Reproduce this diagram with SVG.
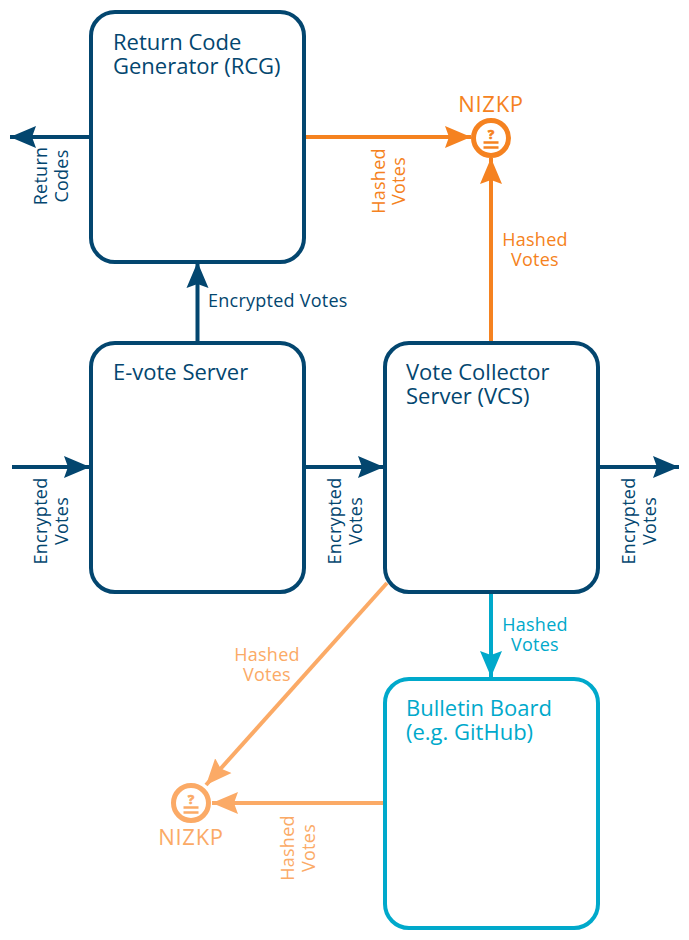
<svg xmlns="http://www.w3.org/2000/svg" width="689" height="940" viewBox="0 0 689 940">
<style>
text{font-family:"Open Sans","Noto Sans","Liberation Sans",sans-serif}
.box{fill:#fff;stroke-width:4}
.t{font-size:22px}
.k{font-size:22px;letter-spacing:.7px}
.s{font-size:18px;letter-spacing:.25px}
.mid{text-anchor:middle}
.navy{fill:#03466f}.or{fill:#f58220}.lo{fill:#fbaa66}.cy{fill:#00a9cb}
.ln{fill:none;stroke-width:4}
.gl{font-size:13px;font-weight:800;text-anchor:middle;stroke-width:.4px}
</style>
<defs>
<marker id="an" markerUnits="userSpaceOnUse" markerWidth="28" markerHeight="24" refX="26" refY="12" orient="auto"><path d="M0 1 L26 12 L0 23 L4 12Z" fill="#03466f"/></marker>
<marker id="ao" markerUnits="userSpaceOnUse" markerWidth="28" markerHeight="24" refX="26" refY="12" orient="auto"><path d="M0 1 L26 12 L0 23 L4 12Z" fill="#f58220"/></marker>
<marker id="al" markerUnits="userSpaceOnUse" markerWidth="28" markerHeight="24" refX="26" refY="12" orient="auto"><path d="M0 1 L26 12 L0 23 L4 12Z" fill="#fbaa66"/></marker>
<marker id="ac" markerUnits="userSpaceOnUse" markerWidth="28" markerHeight="24" refX="26" refY="12" orient="auto"><path d="M0 1 L26 12 L0 23 L4 12Z" fill="#00a9cb"/></marker>
</defs>
<g id="connectors">
<path class="ln" stroke="#03466f" marker-end="url(#an)" d="M90 137H10"/>
<path class="ln" stroke="#f58220" marker-end="url(#ao)" d="M306 137H471"/>
<path class="ln" stroke="#f58220" marker-end="url(#ao)" d="M491 341V158"/>
<path class="ln" stroke="#03466f" marker-end="url(#an)" d="M197.500 341V262"/>
<path class="ln" stroke="#03466f" marker-end="url(#an)" d="M12 467H90"/>
<path class="ln" stroke="#03466f" marker-end="url(#an)" d="M305 467H384"/>
<path class="ln" stroke="#03466f" marker-end="url(#an)" d="M599 467H679"/>
<path class="ln" stroke="#00a9cb" marker-end="url(#ac)" d="M491 593V677"/>
<path class="ln" stroke="#fbaa66" marker-end="url(#al)" d="M387 583L206 785"/>
<path class="ln" stroke="#fbaa66" marker-end="url(#al)" d="M384 803H212"/>
<g class="s">
<text class="navy mid" transform="translate(47 176) rotate(-90)">Return</text>
<text class="navy mid" transform="translate(68 176) rotate(-90)">Codes</text>
<text class="or mid" transform="translate(385 181) rotate(-90)">Hashed</text>
<text class="or mid" transform="translate(405 181) rotate(-90)">Votes</text>
<text class="or mid" x="535" y="246">Hashed</text>
<text class="or mid" x="535" y="266">Votes</text>
<text class="navy" x="208" y="307">Encrypted Votes</text>
<text class="navy mid" transform="translate(47 521) rotate(-90)">Encrypted</text>
<text class="navy mid" transform="translate(68 521) rotate(-90)">Votes</text>
<text class="navy mid" transform="translate(341 521) rotate(-90)">Encrypted</text>
<text class="navy mid" transform="translate(362 521) rotate(-90)">Votes</text>
<text class="navy mid" transform="translate(635 521) rotate(-90)">Encrypted</text>
<text class="navy mid" transform="translate(656 521) rotate(-90)">Votes</text>
<text class="cy mid" x="535" y="631">Hashed</text>
<text class="cy mid" x="535" y="651">Votes</text>
<text class="lo mid" x="267" y="661">Hashed</text>
<text class="lo mid" x="267" y="681">Votes</text>
<text class="lo mid" transform="translate(294 848) rotate(-90)">Hashed</text>
<text class="lo mid" transform="translate(315 848) rotate(-90)">Votes</text>
</g>
</g>
<g id="rcg"><rect class="box" stroke="#03466f" x="91" y="12" width="213" height="250" rx="24"/><text class="t navy" x="113" y="50">Return Code</text><text class="t navy" x="113" y="74">Generator (RCG)</text></g>
<g id="evote"><rect class="box" stroke="#03466f" x="91" y="343" width="213" height="249" rx="24"/><text class="t navy" x="113" y="380">E-vote Server</text></g>
<g id="vcs"><rect class="box" stroke="#03466f" x="385" y="343" width="213" height="249" rx="24"/><text class="t navy" x="406" y="380">Vote Collector</text><text class="t navy" x="406" y="404">Server (VCS)</text></g>
<g id="board"><rect class="box" stroke="#00a9cb" x="385" y="679" width="213" height="249" rx="24"/><text class="t cy" x="406" y="716">Bulletin Board</text><text class="t cy" x="406" y="740">(e.g. GitHub)</text></g>
<g id="nizkp-top"><text class="k or mid" x="491" y="112">NIZKP</text><circle cx="491" cy="138" r="17.500" fill="#fff" stroke="#f58220" stroke-width="5"/><text class="gl or" stroke="#f58220" x="491" y="139">?</text><path d="M483.500 142.500H498.500M483.500 147.500H498.500" stroke="#f58220" stroke-width="2.500" fill="none"/></g>
<g id="nizkp-bottom"><text class="k lo mid" x="191" y="845">NIZKP</text><circle cx="191" cy="803" r="17.500" fill="#fff" stroke="#fbaa66" stroke-width="5"/><text class="gl lo" stroke="#fbaa66" x="191" y="804">?</text><path d="M183.500 807.500H198.500M183.500 812.500H198.500" stroke="#fbaa66" stroke-width="2.500" fill="none"/></g>
</svg>
